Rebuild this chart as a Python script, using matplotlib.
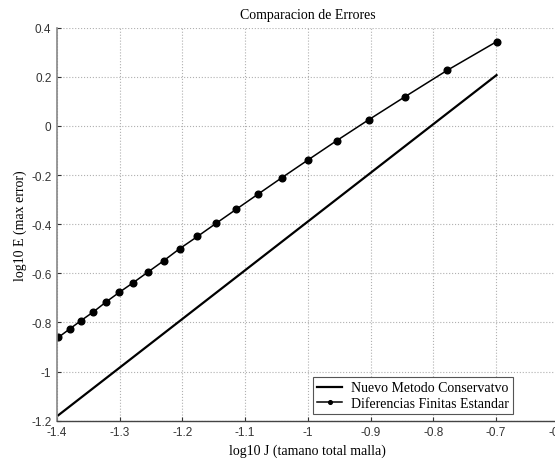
import matplotlib
matplotlib.use("Agg")
import matplotlib.pyplot as plt

# Data
x_dif = [-1.398, -1.380, -1.362, -1.342, -1.322, -1.301, -1.279, -1.255, -1.230,
         -1.204, -1.176, -1.146, -1.114, -1.079, -1.041, -1.000, -0.954, -0.903,
         -0.845, -0.778, -0.699]
y_dif = [-0.861, -0.827, -0.793, -0.757, -0.717, -0.678, -0.639, -0.595, -0.549,
         -0.499, -0.450, -0.396, -0.339, -0.277, -0.210, -0.139, -0.060, 0.025,
         0.119, 0.226, 0.343]
x_new = [-1.398, -0.699]
y_new = [-1.178, 0.207]

xticks = [-1.4, -1.3, -1.2, -1.1, -1.0, -0.9, -0.8, -0.7, -0.6]
xticklabels = ["-1.4", "-1.3", "-1.2", "-1.1", "-1", "-0.9", "-0.8", "-0.7", "-0.6"]
yticks = [-1.2, -1.0, -0.8, -0.6, -0.4, -0.2, 0.0, 0.2, 0.4]
yticklabels = ["-1.2", "-1", "-0.8", "-0.6", "-0.4", "-0.2", "0", "0.2", "0.4"]

serif = ["Liberation Serif", "DejaVu Serif"]
sans = ["Liberation Sans", "DejaVu Sans"]

fig = plt.figure(figsize=(5.55, 4.6), dpi=100)
ax = fig.add_axes([57 / 555, (460 - 421.7) / 460, 501.6 / 555, 393 / 460])

ax.plot(x_new, y_new, color="black", lw=1.6, label="Nuevo Metodo Conservatvo")
ax.plot(x_dif, y_dif, color="black", lw=1.1, marker="o", ms=4.8,
        label="Diferencias Finitas Estandar")

ax.set_xlim(-1.4, -0.6)
ax.set_ylim(-1.2, 0.4)
ax.set_xticks(xticks)
ax.set_xticklabels(xticklabels, fontfamily=sans, fontsize=8.5)
ax.set_yticks(yticks)
ax.set_yticklabels(yticklabels, fontfamily=sans, fontsize=8.5)
ax.tick_params(direction="in", length=3, width=0.8, colors="#333333", pad=4)

ax.grid(True, linestyle=":", color="#b0b0b0", lw=0.8)
ax.spines["top"].set_visible(False)
ax.spines["right"].set_visible(False)
ax.spines["left"].set_color("#888888")
ax.spines["left"].set_linewidth(1.2)
ax.spines["bottom"].set_color("#444444")
ax.spines["bottom"].set_linewidth(1.0)

ax.set_title("Comparacion de Errores", fontfamily=serif, fontsize=10, pad=7)
ax.set_xlabel("log10 J (tamano total malla)", fontfamily=serif, fontsize=10, labelpad=4)
ax.set_ylabel("log10 E (max error)", fontfamily=serif, fontsize=10, labelpad=3)

leg = ax.legend(loc="upper left", bbox_to_anchor=(313.3 / 555, (460 - 378.3) / 460),
                bbox_transform=fig.transFigure, borderaxespad=0,
                prop={"family": serif, "size": 10}, fancybox=False,
                handlelength=1.8, handletextpad=0.6, borderpad=0.3,
                labelspacing=0.15, framealpha=1, markerscale=0.55)
leg.get_frame().set_edgecolor("#555555")
leg.get_frame().set_linewidth(0.8)

fig.savefig("out.png", dpi=100)
